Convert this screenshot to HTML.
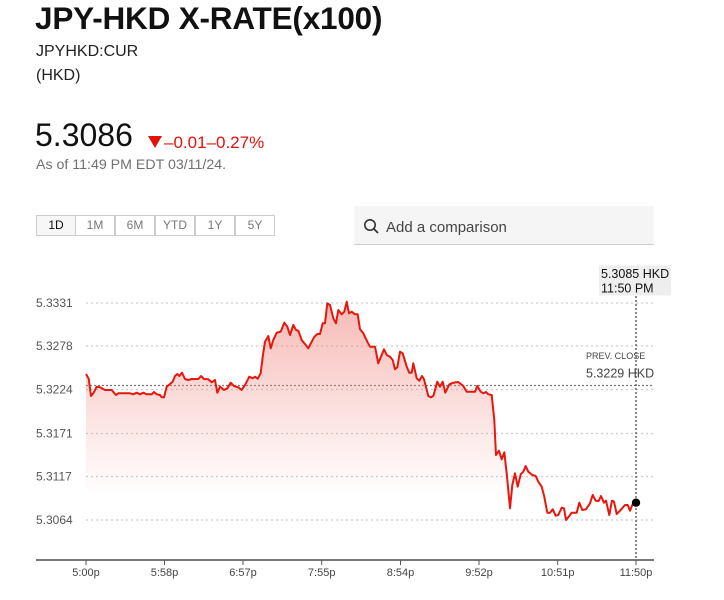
<!DOCTYPE html>
<html><head><meta charset="utf-8"><style>
html,body{margin:0;padding:0;background:#fff;}
body{width:724px;height:600px;position:relative;overflow:hidden;font-family:"Liberation Sans",Arial,sans-serif;color:#111;}
.a{position:absolute;white-space:nowrap;}
.btn{position:absolute;top:215px;height:21px;width:40px;border:1px solid #ccc;box-sizing:border-box;font-size:12px;line-height:19px;text-align:center;color:#777;background:#fff;}
</style></head><body>
<div class="a" style="left:35px;top:0px;font-size:31.5px;font-weight:bold;letter-spacing:-0.2px;">JPY-HKD X-RATE(x100)</div>
<div class="a" style="left:36px;top:43px;font-size:16px;color:#222;">JPYHKD:CUR</div>
<div class="a" style="left:36px;top:67px;font-size:16px;color:#222;">(HKD)</div>
<div class="a" style="left:35px;top:117px;font-size:32px;color:#111;">5.3086</div>
<div class="a" style="left:148px;top:136px;width:0;height:0;border-left:7px solid transparent;border-right:7px solid transparent;border-top:12px solid #e3120b;"></div>
<div class="a" style="left:164px;top:133px;font-size:17px;color:#e3120b;">–0.01–0.27%</div>
<div class="a" style="left:36px;top:157px;font-size:14.2px;color:#707070;">As of 11:49 PM EDT 03/11/24.</div>

<div class="btn" style="left:36px;background:#f7f7f7;color:#111;">1D</div>
<div class="btn" style="left:75px;">1M</div>
<div class="btn" style="left:115px;">6M</div>
<div class="btn" style="left:155px;">YTD</div>
<div class="btn" style="left:195px;">1Y</div>
<div class="btn" style="left:235px;">5Y</div>

<div class="a" style="left:354px;top:206px;width:300px;height:38px;background:#f5f5f5;border-bottom:1px solid #ccc;"></div>
<svg class="a" style="left:363px;top:218px;" width="18" height="18" viewBox="0 0 18 18"><circle cx="7" cy="7" r="5.2" fill="none" stroke="#333" stroke-width="1.6"/><line x1="10.8" y1="10.8" x2="15" y2="15" stroke="#333" stroke-width="1.8"/></svg>
<div class="a" style="left:386px;top:219px;font-size:15px;color:#444;">Add a comparison</div>

<svg class="a" style="left:0;top:0;" width="724" height="600">
<defs>
<linearGradient id="g" gradientUnits="userSpaceOnUse" x1="0" y1="300" x2="0" y2="495">
<stop offset="0" stop-color="#f08c84" stop-opacity="0.6"/>
<stop offset="1" stop-color="#f08c84" stop-opacity="0"/>
</linearGradient>
</defs>
<g stroke="#ccc" stroke-width="1.2" stroke-dasharray="2,3">
<line x1="86" y1="303" x2="653" y2="303"/>
<line x1="86" y1="346" x2="653" y2="346"/>
<line x1="86" y1="389.5" x2="653" y2="389.5"/>
<line x1="86" y1="433.5" x2="653" y2="433.5"/>
<line x1="86" y1="476.5" x2="653" y2="476.5"/>
<line x1="86" y1="520" x2="653" y2="520"/>
</g>
<line x1="86" y1="385.5" x2="653" y2="385.5" stroke="#777" stroke-width="1.3" stroke-dasharray="2,2"/>
<polygon fill="url(#g)" points="86,374 88.7,378.7 91,396 93.3,393.3 96.7,386.7 100,387.3 105,390 111.7,390 116,395 118.3,393.3 130,393.3 133.3,394.3 136.7,392.7 140,394.3 143.3,392.7 146.7,394.3 151.7,394.3 154,392 156.7,394.3 160,395 161.7,397.3 164,397.3 166.7,386.7 170,384 172.7,381.7 175,376 177.3,374 179.3,376 182,372.7 185,379 188.3,380 191.7,379 198.3,379 201,376 204,379 208.3,379.3 211.7,382.3 215,380 217.3,392.7 220,386.7 224,390 227.3,388.3 230.7,382.7 234,386 238.3,387.3 241.7,390 245,385 249.3,376.7 252.7,378.3 255,376.7 257.7,378.7 260.7,373.3 262.7,356.7 265,341.7 268.3,336 270.7,348.3 273.3,340 276.7,332.7 280.7,331.7 284.3,322.7 287.3,326.7 290,335 293.3,325 296,330 298.3,330.7 301.7,340 308.3,348.3 314,337.3 317.3,334 320,334 322.7,323.3 325,323.3 327.3,303.3 330,305 333.3,318.3 336,323.3 338.3,310 341.7,314.3 344.3,311.7 346.7,301.7 349,313.3 351.7,311.7 355,314.3 357.7,314.3 360,329.3 363.3,333.3 367.3,341.7 370,346.7 375,346.7 378.3,363.3 384,349.3 386.7,355 390,356.7 392.7,360 395,369.3 397.3,367.3 400,351.7 402.7,353.3 406.7,366.7 409.3,372.7 411.7,372.7 413.3,363.3 416.7,378.3 419.3,380.7 422,376 424,379.3 428.3,396 430.7,397.3 433.3,396 437.3,381.7 440,386.7 442.7,381.7 445.3,392.7 449.3,384.3 453.3,382.7 458.3,382 463.3,386 466.7,391.7 475,391.7 477.3,386 480.7,391.7 483.3,393.3 486,392 488.3,394.3 491.7,395 494.3,420 496,455 499,450.7 501.7,459.3 504.3,452.3 506.7,473.3 510,508.3 512.3,485 515,473.3 517.7,486.7 520.7,474.3 523.3,471.7 525.7,466 528.3,471.7 532.3,475 535.7,476 538.3,481.7 541.7,486.7 544.3,496.7 547.3,512.7 550,512.7 552.7,509.3 555.7,515.7 558.3,515 561.7,507.7 564,508.3 566,520 569.3,516 571.7,512.7 576.7,512.7 579.3,502.7 582.3,510 586,509.3 590,503.3 592.7,495 595.7,500.7 598.7,501 601,496 604,502.7 606,500.7 609.3,515 612,500.7 614,501.7 616.7,514 620,510.7 625,505 627.7,505 630,510.7 632.3,505 636,502.7 636,559 86,559"/>
<polyline fill="none" stroke="#e8160c" stroke-width="2" stroke-linejoin="round" points="86,374 88.7,378.7 91,396 93.3,393.3 96.7,386.7 100,387.3 105,390 111.7,390 116,395 118.3,393.3 130,393.3 133.3,394.3 136.7,392.7 140,394.3 143.3,392.7 146.7,394.3 151.7,394.3 154,392 156.7,394.3 160,395 161.7,397.3 164,397.3 166.7,386.7 170,384 172.7,381.7 175,376 177.3,374 179.3,376 182,372.7 185,379 188.3,380 191.7,379 198.3,379 201,376 204,379 208.3,379.3 211.7,382.3 215,380 217.3,392.7 220,386.7 224,390 227.3,388.3 230.7,382.7 234,386 238.3,387.3 241.7,390 245,385 249.3,376.7 252.7,378.3 255,376.7 257.7,378.7 260.7,373.3 262.7,356.7 265,341.7 268.3,336 270.7,348.3 273.3,340 276.7,332.7 280.7,331.7 284.3,322.7 287.3,326.7 290,335 293.3,325 296,330 298.3,330.7 301.7,340 308.3,348.3 314,337.3 317.3,334 320,334 322.7,323.3 325,323.3 327.3,303.3 330,305 333.3,318.3 336,323.3 338.3,310 341.7,314.3 344.3,311.7 346.7,301.7 349,313.3 351.7,311.7 355,314.3 357.7,314.3 360,329.3 363.3,333.3 367.3,341.7 370,346.7 375,346.7 378.3,363.3 384,349.3 386.7,355 390,356.7 392.7,360 395,369.3 397.3,367.3 400,351.7 402.7,353.3 406.7,366.7 409.3,372.7 411.7,372.7 413.3,363.3 416.7,378.3 419.3,380.7 422,376 424,379.3 428.3,396 430.7,397.3 433.3,396 437.3,381.7 440,386.7 442.7,381.7 445.3,392.7 449.3,384.3 453.3,382.7 458.3,382 463.3,386 466.7,391.7 475,391.7 477.3,386 480.7,391.7 483.3,393.3 486,392 488.3,394.3 491.7,395 494.3,420 496,455 499,450.7 501.7,459.3 504.3,452.3 506.7,473.3 510,508.3 512.3,485 515,473.3 517.7,486.7 520.7,474.3 523.3,471.7 525.7,466 528.3,471.7 532.3,475 535.7,476 538.3,481.7 541.7,486.7 544.3,496.7 547.3,512.7 550,512.7 552.7,509.3 555.7,515.7 558.3,515 561.7,507.7 564,508.3 566,520 569.3,516 571.7,512.7 576.7,512.7 579.3,502.7 582.3,510 586,509.3 590,503.3 592.7,495 595.7,500.7 598.7,501 601,496 604,502.7 606,500.7 609.3,515 612,500.7 614,501.7 616.7,514 620,510.7 625,505 627.7,505 630,510.7 632.3,505 636,502.7"/>
<line x1="636" y1="296" x2="636" y2="559" stroke="#666" stroke-width="1.5" stroke-dasharray="2,2"/>
<circle cx="636" cy="502.7" r="4.2" fill="#000"/>
<line x1="36" y1="560" x2="654" y2="560" stroke="#777" stroke-width="2"/>
<g stroke="#555" stroke-width="1">
<line x1="86" y1="560" x2="86" y2="565"/><line x1="164.5" y1="560" x2="164.5" y2="565"/><line x1="243" y1="560" x2="243" y2="565"/><line x1="321.7" y1="560" x2="321.7" y2="565"/><line x1="400.5" y1="560" x2="400.5" y2="565"/><line x1="479" y1="560" x2="479" y2="565"/><line x1="557.7" y1="560" x2="557.7" y2="565"/><line x1="636" y1="560" x2="636" y2="565"/>
</g>
<g font-family="Liberation Sans, Arial, sans-serif" font-size="11" fill="#444" text-anchor="middle">
<text x="86" y="576">5:00p</text><text x="164.5" y="576">5:58p</text><text x="243" y="576">6:57p</text><text x="321.7" y="576">7:55p</text><text x="400.5" y="576">8:54p</text><text x="479" y="576">9:52p</text><text x="557.7" y="576">10:51p</text><text x="636" y="576">11:50p</text>
</g>
<g font-family="Liberation Sans, Arial, sans-serif" font-size="12" fill="#555">
<text x="36" y="307">5.3331</text><text x="36" y="350">5.3278</text><text x="36" y="393.5">5.3224</text><text x="36" y="437.5">5.3171</text><text x="36" y="480.5">5.3117</text><text x="36" y="524">5.3064</text>
</g>
<text x="586" y="359" font-family="Liberation Sans, Arial, sans-serif" font-size="9" fill="#444">PREV. CLOSE</text>
<text x="586" y="377.5" font-family="Liberation Sans, Arial, sans-serif" font-size="12.5" fill="#444">5.3229 HKD</text>
<rect x="599" y="265.5" width="72" height="30" fill="#eee"/>
<text x="601" y="278" font-family="Liberation Sans, Arial, sans-serif" font-size="12.5" fill="#111">5.3085 HKD</text>
<text x="601" y="292.5" font-family="Liberation Sans, Arial, sans-serif" font-size="12.5" fill="#111">11:50 PM</text>
</svg>
</body></html>
